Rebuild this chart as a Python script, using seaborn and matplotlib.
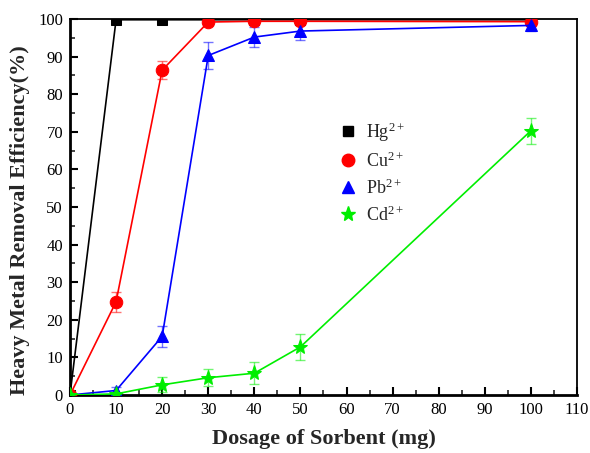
import matplotlib
matplotlib.use("Agg")
import matplotlib.pyplot as plt
import seaborn as sns
import pandas as pd
import numpy as np
from matplotlib.lines import Line2D

dosage = [0, 10, 20, 30, 40, 50, 100]
hg = [0.0, 99.8, 99.8, 99.8, 99.8, 99.8, 99.8]
hg_err = [0, 0, 0, 0, 0, 0, 0]
cu = [0.0, 24.8, 86.4, 99.2, 99.4, 99.4, 99.3]
cu_err = [0, 2.7, 2.4, 0.5, 0.5, 0.5, 0.5]
pb = [0.0, 1.2, 15.6, 90.3, 95.2, 96.8, 98.3]
pb_err = [0, 1.0, 2.8, 3.5, 2.6, 2.4, 1.5]
cd = [0.0, 0.3, 2.7, 4.6, 5.8, 12.8, 70.3]
cd_err = [0, 0.3, 2.0, 2.2, 3.0, 3.4, 3.5]

labels = ["Hg$^{2+}$", "Cu$^{2+}$", "Pb$^{2+}$", "Cd$^{2+}$"]
colors = ["#000000", "#ff0000", "#0000ff", "#00ee00"]
markers = ["s", "o", "^", "*"]
msizes = [7, 9, 9, 11]

sns.set_theme(style="ticks")
plt.rcParams["font.family"] = ["Liberation Serif", "DejaVu Serif"]
plt.rcParams["mathtext.fontset"] = "custom"
plt.rcParams["mathtext.rm"] = "Liberation Serif"
plt.rcParams["mathtext.it"] = "Liberation Serif"

fig = plt.figure(figsize=(5.9, 4.53), dpi=100)
ax = fig.add_axes([0.1186, 0.128, 0.8594, 0.830])

series = [hg, cu, pb, cd]
errs = [hg_err, cu_err, pb_err, cd_err]
rows = []
for lab, vals in zip(labels, series):
    for x, v in zip(dosage, vals):
        rows.append({"dosage": x, "eff": v, "metal": lab})
df = pd.DataFrame(rows)

for lab, vals, err, c, m, ms in zip(labels, series, errs, colors, markers, msizes):
    sub = df[df.metal == lab]
    ax.errorbar(sub.dosage, sub.eff, yerr=err, fmt="none", ecolor=c, alpha=0.55,
                elinewidth=1.0, capsize=3.5, capthick=1.0, zorder=2)
    sns.lineplot(data=sub, x="dosage", y="eff", color=c, marker=m, markersize=ms,
                 markeredgecolor=c, linewidth=1.2, ax=ax, label=lab, zorder=3,
                 legend=False)

handles = [Line2D([], [], color=c, marker=m, linestyle="none", markersize=ms)
           for c, m, ms in zip(colors, markers, [7, 9, 9, 11])]
leg = ax.legend(handles, labels, loc="upper left", bbox_to_anchor=(0.499, 0.774),
                frameon=False, fontsize=13, handletextpad=0.5, labelspacing=0.42,
                handlelength=1.0)

ax.set_xlim(0, 110)
ax.set_ylim(0, 100)
ax.set_xticks(np.arange(0, 111, 10))
ax.set_yticks(np.arange(0, 101, 10))
ax.set_xticks(np.arange(5, 110, 10), minor=True)
ax.set_yticks(np.arange(5, 100, 10), minor=True)
ax.tick_params(axis="both", which="major", direction="in", length=6, width=1.5,
               labelsize=12, top=False, right=False, colors="black", pad=5)
ax.tick_params(axis="both", which="minor", direction="in", length=3.5, width=1.2,
               top=False, right=False)
for s in ax.spines.values():
    s.set_linewidth(1.3)
    s.set_color("black")
ax.spines["left"].set_linewidth(2)
ax.spines["bottom"].set_linewidth(2)

ax.set_xlabel("Dosage of Sorbent (mg)", fontsize=16, fontweight="bold")
ax.xaxis.set_label_coords(0.5, -0.09)
ax.set_ylabel("Heavy Metal Removal Efficiency(%)", fontsize=16, fontweight="bold")
ax.yaxis.set_label_coords(-0.078, 0.465)

fig.savefig("out.png", dpi=100)
